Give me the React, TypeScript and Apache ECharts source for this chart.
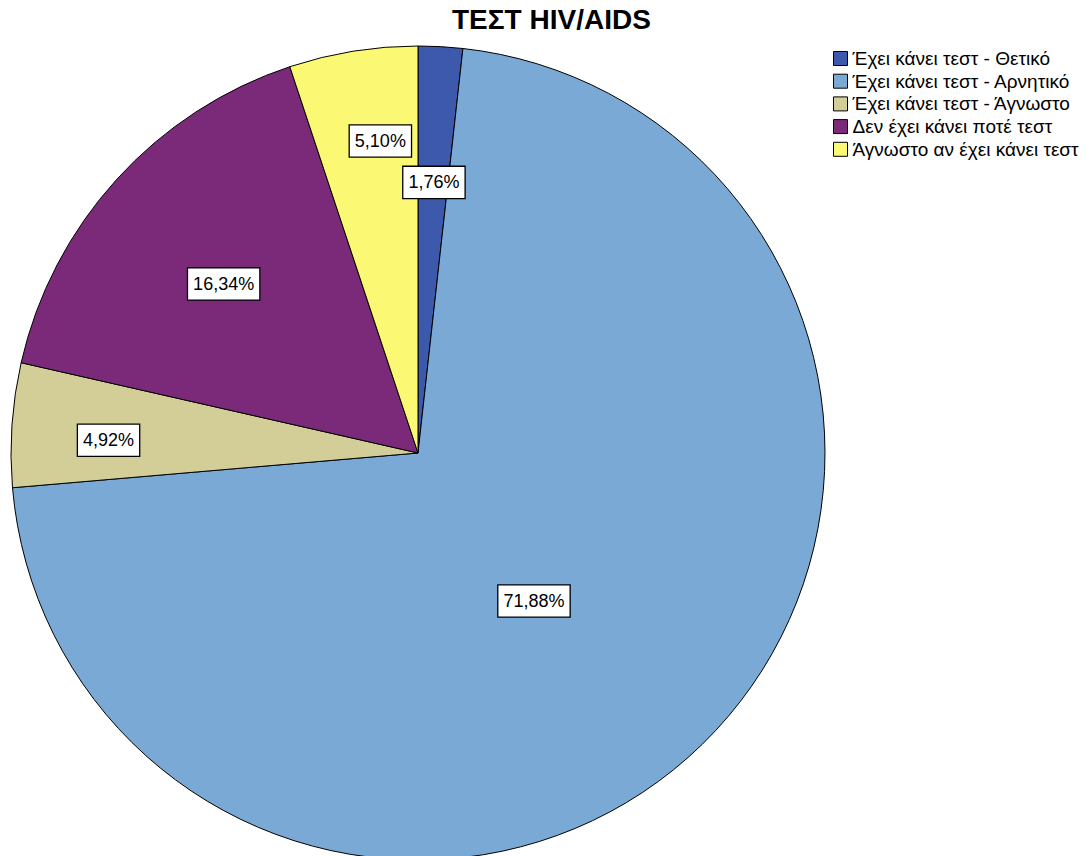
import React, { useEffect, useRef } from "react";
import * as echarts from "echarts";

const categories = [
  "Έχει κάνει τεστ - Θετικό",
  "Έχει κάνει τεστ - Αρνητικό",
  "Έχει κάνει τεστ - Άγνωστο",
  "Δεν έχει κάνει ποτέ τεστ",
  "Άγνωστο αν έχει κάνει τεστ",
];
const percentages = [1.76, 71.88, 4.92, 16.34, 5.1];
const colors = ["#3d59ab", "#7ba9d6", "#d3ce98", "#7b2a7a", "#fbf873"];
// label placement: radial distance (fraction of pie radius) and angular shift (degrees) from slice middle
const labelRadiusRatio = [0.666, 0.462, 0.761, 0.633, 0.772];
const labelAngleShift = [0.2, 6.2, -1.6, -1.2, 2.3];

const PIE_CENTER: [number, number] = [418, 453];
const PIE_RADIUS = 407;
const FONT = "'Liberation Sans', Arial, Helvetica, sans-serif";

export default function App() {
  const ref = useRef<HTMLDivElement>(null);
  useEffect(() => {
    if (!ref.current) return;
    const chart = echarts.init(ref.current, undefined, { renderer: "svg" });
    chart.setOption({
      animation: false,
      backgroundColor: "#ffffff",
      title: {
        text: "ΤΕΣΤ HIV/AIDS",
        left: 452,
        top: 5,
        padding: 0,
        textStyle: { fontFamily: FONT, fontSize: 28, fontWeight: "bold", color: "#000" },
      },
      legend: {
        orient: "vertical",
        left: 833,
        top: 49,
        padding: 0,
        itemWidth: 14,
        itemHeight: 14,
        itemGap: 3.7,
        icon: "rect",
        selectedMode: false,
        textStyle: { fontFamily: FONT, fontSize: 19, lineHeight: 18, color: "#000" },
        itemStyle: { borderColor: "#000", borderWidth: 1 },
        data: categories,
      },
      series: [
        {
          type: "pie",
          center: PIE_CENTER,
          radius: PIE_RADIUS,
          startAngle: 90,
          clockwise: true,
          avoidLabelOverlap: false,
          itemStyle: { borderColor: "#000", borderWidth: 1 },
          emphasis: { disabled: true },
          label: {
            show: true,
            position: "inside",
            formatter: (p: any) => p.value.toFixed(2).replace(".", ",") + "%",
            fontFamily: FONT,
            fontSize: 18,
            color: "#000",
            backgroundColor: "#fff",
            borderColor: "#000",
            borderWidth: 1.3,
            padding: [7, 5, 6, 5],
          },
          labelLine: { show: false },
          labelLayout: (params: any) => {
            const r = params.labelRect;
            const cx = r.x + r.width / 2;
            const cy = r.y + r.height / 2;
            const i = params.dataIndex;
            const mid = Math.atan2(cx - PIE_CENTER[0], -(cy - PIE_CENTER[1]));
            const ang = mid + (labelAngleShift[i] * Math.PI) / 180;
            const dist = labelRadiusRatio[i] * PIE_RADIUS;
            return {
              x: PIE_CENTER[0] + dist * Math.sin(ang),
              y: PIE_CENTER[1] - dist * Math.cos(ang),
            };
          },
          data: categories.map((name, i) => ({
            name,
            value: percentages[i],
            itemStyle: { color: colors[i] },
          })),
        },
      ],
    });
    return () => chart.dispose();
  }, []);
  return (
    <div
      ref={ref}
      style={{ position: "absolute", left: 0, top: 0, width: 1091, height: 856 }}
    />
  );
}
